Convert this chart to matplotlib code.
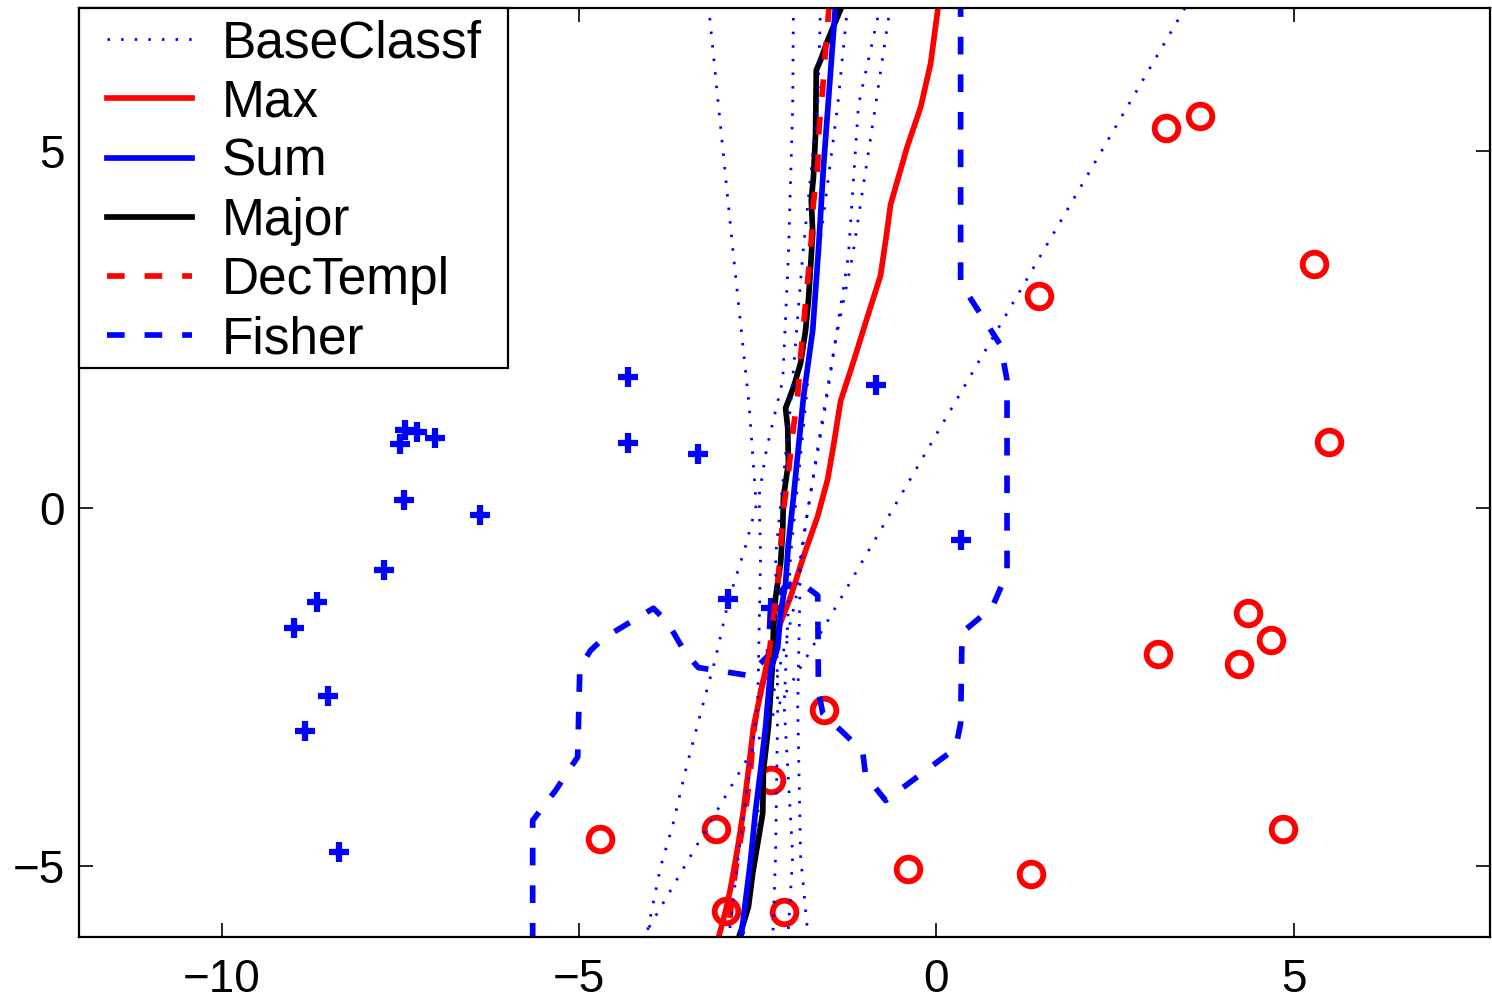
import matplotlib.pyplot as plt
from matplotlib.patches import Rectangle

plt.rcParams["font.family"] = ["Liberation Sans", "DejaVu Sans"]

# training points
plus_x = [-4.31, -4.32, -3.34, -0.85, -7.50, -7.44, -7.27, -7.02, -7.45, -6.39,
          -7.73, -8.67, -8.99, -8.52, -8.83, -8.36, -2.92, -2.32, 0.34]
plus_y = [1.84, 0.91, 0.76, 1.73, 0.90, 1.10, 1.07, 0.98, 0.11, -0.10,
          -0.86, -1.31, -1.67, -2.63, -3.12, -4.81, -1.27, -1.39, -0.44]
circ_x = [3.22, 3.69, 5.29, 1.44, 5.50, 4.36, 4.69, 3.10, 4.24, -1.57,
          -2.32, -3.08, -4.71, -0.39, 1.33, 4.85, -2.94, -2.13]
circ_y = [5.32, 5.49, 3.42, 2.97, 0.93, -1.46, -1.84, -2.04, -2.18, -2.83,
          -3.81, -4.49, -4.63, -5.05, -5.12, -4.49, -5.64, -5.65]

# base classifier boundaries (dotted)
base_left_x = [-3.19, -3.05, -2.84, -2.62, -2.52, -2.67, -2.91, -3.09, -3.30, -3.51, -3.69, -3.86, -4.07]
base_left_y = [7.05, 5.64, 3.54, 1.44, 0.04, -0.53, -1.30, -2.10, -2.87, -3.67, -4.44, -5.02, -6.05]
base_diag_x = [3.48, -4.10]
base_diag_y = [7.0, -6.0]
base1_x = [-2.00, -2.01, -2.07, -2.15, -2.38, -2.48, -2.46, -2.50, -2.77, -2.91]
base1_y = [7.05, 5.64, 3.54, 1.79, 0.81, 0.18, -0.66, -2.76, -4.86, -6.05]
base2_x = [-1.62, -1.66, -1.87, -2.04, -2.25, -2.22, -2.25, -2.29]
base2_y = [7.05, 5.64, 3.54, 1.44, -0.66, -2.76, -4.86, -6.05]
base3_x = [-1.24, -1.38, -1.65, -1.83, -2.04, -2.13, -2.01, -2.08]
base3_y = [7.05, 5.64, 3.54, 1.44, -0.66, -2.76, -4.86, -6.05]
base4_x = [-0.78, -1.09, -1.23, -1.55, -1.80, -1.90, -1.94, -1.90, -1.79]
base4_y = [7.05, 5.64, 3.54, 1.44, -0.03, -0.66, -2.76, -4.86, -6.05]
base5_x = [-0.64, -0.85, -1.17, -1.41, -1.62, -1.82, -1.97, -2.32, -2.57, -2.71]
base5_y = [7.05, 5.64, 3.54, 2.35, 1.09, -0.17, -1.29, -2.76, -4.86, -6.05]
base_lines = [(base_left_x, base_left_y), (base_diag_x, base_diag_y),
              (base1_x, base1_y), (base2_x, base2_y), (base3_x, base3_y),
              (base4_x, base4_y), (base5_x, base5_y)]

# combined boundaries
max_x = [0.03, -0.08, -0.22, -0.41, -0.64, -0.69, -0.78, -0.97, -1.16, -1.34, -1.44, -1.52, -1.66,
         -1.86, -2.04, -2.18, -2.36, -2.46, -2.56, -2.63, -2.70, -2.78, -2.88, -2.95, -3.06]
max_y = [7.05, 6.22, 5.61, 5.05, 4.25, 3.88, 3.26, 2.66, 2.05, 1.50, 0.87, 0.41, -0.11,
         -0.68, -1.24, -1.60, -2.12, -2.59, -3.07, -3.67, -4.23, -4.75, -5.32, -5.64, -6.05]
sum_x = [-1.41, -1.51, -1.58, -1.65, -1.73, -1.86, -1.93, -2.00, -2.07, -2.11, -2.18, -2.22,
         -2.32, -2.39, -2.46, -2.53, -2.60, -2.67, -2.74]
sum_y = [7.05, 5.71, 4.77, 3.61, 2.49, 1.55, 0.85, 0.15, -0.49, -1.05, -1.47, -1.95,
         -2.27, -3.06, -3.67, -4.23, -4.93, -5.49, -6.05]
major_x = [-1.31, -1.52, -1.62, -1.68, -1.69, -1.72, -1.75, -1.73, -1.79, -1.83, -1.90, -2.00,
           -2.11, -2.08, -2.07, -2.14, -2.15, -2.18, -2.25, -2.28, -2.29, -2.35, -2.42, -2.43,
           -2.50, -2.57, -2.63, -2.70, -2.78]
major_y = [7.05, 6.55, 6.27, 6.13, 5.25, 4.63, 4.31, 3.85, 2.91, 2.49, 2.03, 1.69,
           1.40, 1.13, 0.63, 0.15, -0.31, -0.77, -1.25, -1.71, -2.13, -3.06, -3.67, -4.27,
           -4.69, -5.11, -5.58, -5.81, -6.05]
dec_x = [-1.50, -1.55, -1.59, -1.64, -1.66, -1.72, -1.75, -1.80, -1.85, -1.90, -1.94, -2.01,
         -2.07, -2.14, -2.18, -2.22, -2.29, -2.35, -2.49, -2.56, -2.60, -2.67, -2.77, -2.85, -2.92]
dec_y = [7.05, 6.41, 5.88, 5.33, 4.80, 4.27, 3.75, 3.19, 2.66, 2.11, 1.58, 1.05,
         0.50, -0.03, -0.55, -1.08, -1.61, -2.13, -2.69, -3.15, -3.67, -4.23, -4.79, -5.35, -6.05]
fisher_x = [-5.65, -5.65, -5.33, -5.02, -4.99, -4.84, -4.66, -3.96, -3.76, -3.51, -3.33, -2.63,
            -2.53, -2.35, -2.32, -2.14, -1.94, -1.66, -1.65, -1.59, -1.24, -1.03, -0.99, -0.71,
            0.27, 0.34, 0.36, 0.78, 0.99, 0.99, 0.90, 0.34, 0.34]
fisher_y = [-6.05, -4.37, -3.95, -3.48, -2.23, -1.99, -1.82, -1.40, -1.60, -2.03, -2.23, -2.34,
            -2.24, -2.06, -1.36, -1.12, -1.01, -1.22, -2.55, -2.87, -3.20, -3.41, -3.74, -4.09,
            -3.36, -3.01, -1.74, -1.39, -0.91, 1.79, 2.28, 3.15, 7.1]

W, H = 1492, 1000
fig = plt.figure(figsize=(W / 100, H / 100), dpi=100)
ax = fig.add_axes([79 / W, 63 / H, 1411 / W, 929 / H])

ax.plot(plus_x, plus_y, "+", color="blue", ms=14, mew=4.5)
ax.plot(circ_x, circ_y, "o", color="red", mfc="none", ms=17, mew=4.2)

lw = 4.1
dash = (3.1, 3.5)
h_fisher, = ax.plot(fisher_x, fisher_y, color="blue", lw=lw, dashes=dash, label="Fisher")
h_max, = ax.plot(max_x, max_y, color="red", lw=lw, label="Max")
h_major, = ax.plot(major_x, major_y, color="black", lw=lw, label="Major")
h_sum, = ax.plot(sum_x, sum_y, color="blue", lw=lw, label="Sum")
h_dec, = ax.plot(dec_x, dec_y, color="red", lw=lw, dashes=dash, label="DecTempl")

for i, (bx, by) in enumerate(base_lines):
    h, = ax.plot(bx, by, color="blue", lw=2.0, dashes=(0.9, 4.0))
    if i == 0:
        h_base = h
h_base.set_label("BaseClassf")

ax.set_xlim(-12, 7.75)
ax.set_ylim(-6, 7)
ax.set_xticks([-10, -5, 0, 5])
ax.set_yticks([-5, 0, 5])
ax.tick_params(direction="in", length=10, width=1.2, top=True, right=True, labelsize=33)
ax.tick_params(axis="x", pad=15)
ax.tick_params(axis="y", pad=10)
for s in ax.spines.values():
    s.set_linewidth(1.6)

# legend box drawn separately so the inner padding can match
box = Rectangle((79 / W, 1 - 368 / H), 429 / W, 360 / H, transform=fig.transFigure,
                facecolor="white", edgecolor="black", lw=1.6, zorder=4.5, clip_on=False)
ax.add_artist(box)
leg = ax.legend(handles=[h_base, h_max, h_sum, h_major, h_dec, h_fisher],
                loc="upper left", bbox_to_anchor=(107 / W, 1 - 19 / H),
                bbox_transform=fig.transFigure, borderaxespad=0, borderpad=0,
                fontsize=37, frameon=False, handlelength=1.65,
                handletextpad=0.58, labelspacing=0.2)

fig.savefig("out.png", dpi=100)
